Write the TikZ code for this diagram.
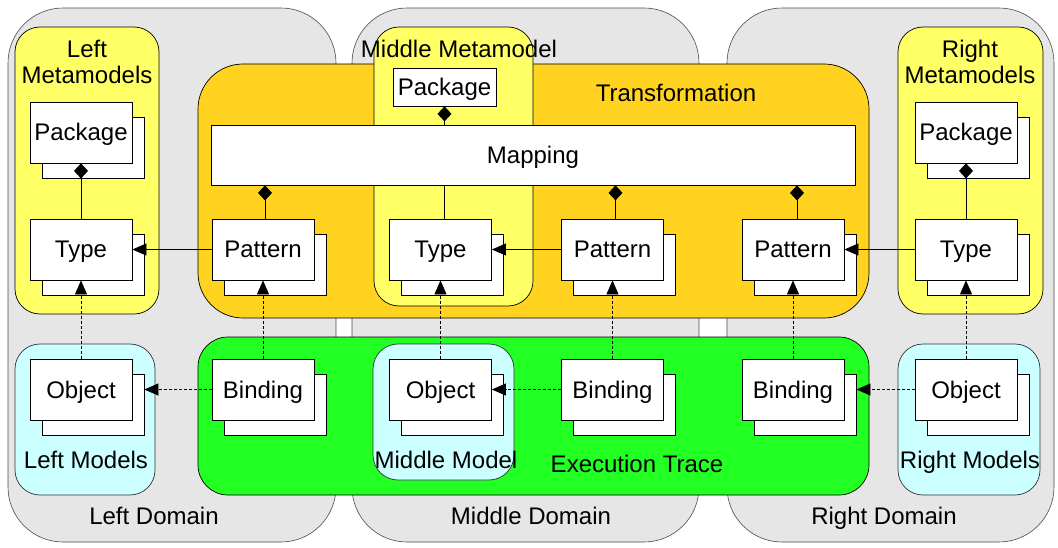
\documentclass[tikz,border=0pt]{standalone}
\usepackage{fontspec}
\setmainfont{Liberation Sans}
\usetikzlibrary{arrows.meta,shadows}

\definecolor{domgray}{HTML}{E6E6E6}
\definecolor{metayellow}{HTML}{FFFF66}
\definecolor{transorange}{HTML}{FFD320}
\definecolor{tracegreen}{HTML}{22FF22}
\definecolor{modelcyan}{HTML}{CCFFFF}

\begin{document}
\begin{tikzpicture}[x=1pt,y=-1pt,
    domainbox/.style={fill=domgray, draw=black!70, line width=0.6pt, rounded corners=55pt},
    metabox/.style={fill=metayellow, draw=black, line width=0.7pt, rounded corners=25pt},
    modelbox/.style={fill=modelcyan, draw=black!80, line width=0.7pt, rounded corners=25pt},
    transbox/.style={fill=transorange, draw=black, line width=0.7pt, rounded corners=45pt},
    tracebox/.style={fill=tracegreen, draw=black, line width=0.7pt, rounded corners=30pt},
    lbl/.style={inner sep=0pt, font=\fontsize{24}{26}\selectfont, text height=17pt, text depth=0pt},
    lbltwo/.style={inner sep=0pt, font=\fontsize{24}{26}\selectfont, align=center},
    singlebox/.style={draw, fill=white, line width=0.8pt, inner sep=0pt,
      minimum width=103pt, minimum height=38pt,
      font=\fontsize{24}{26}\selectfont, text height=17pt, text depth=0pt},
    stackbox/.style={singlebox, minimum width=102pt, minimum height=61pt,
      copy shadow={shadow xshift=12pt, shadow yshift=-15pt, fill=white, draw=black}},
    own/.style={{Diamond[length=15pt,width=14pt]}-, line width=0.8pt},
    ref/.style={-{Triangle[length=14pt,width=12pt]}, line width=0.8pt},
    dep/.style={ref, dash pattern=on 3pt off 2pt}]
  \useasboundingbox (0,0) rectangle (1058,548);

  % domains
  \draw[domainbox] (8,8) rectangle (336,542);
  \draw[domainbox] (352,8) rectangle (699,542);
  \draw[domainbox] (727,8) rectangle (1054,542);
  \node[lbl] (ldom) at (154,516) {Left Domain};
  \node[lbl] (mdom) at (531,516) {Middle Domain};
  \node[lbl] (rdom) at (884,516) {Right Domain};

  % left and right metamodels / models
  \draw[metabox] (15,27) rectangle (159,314);
  \draw[modelbox] (15,344) rectangle (155,495);
  \draw[metabox] (898,27) rectangle (1043,314);
  \draw[modelbox] (898,344) rectangle (1040,495);
  \node[lbltwo] (lmeta) at (87,62) {Left\\Metamodels};
  \node[lbltwo] (rmeta) at (970,62) {Right\\Metamodels};
  \node[lbl] (lmod) at (86,460) {Left Models};
  \node[lbl] (rmod) at (970,460) {Right Models};

  % transformation with middle metamodel
  \draw[transbox] (198,64) rectangle (869,318);
  \node[lbl] (trans) at (676,93) {Transformation};
  \draw[metabox] (374,27) rectangle (533,306);
  \node[lbl] (mmeta) at (459,49) {Middle Metamodel};

  % execution trace with middle model
  \draw[tracebox] (198,337) rectangle (869,495);
  \node[lbl] (trace) at (637,464) {Execution Trace};
  \draw[modelbox] (373,344) rectangle (514,480);
  \node[lbl] (mmod) at (446,460) {Middle Model};

  % classes
  \node[stackbox] (lpkg) at (81,132.5) {Package};
  \node[stackbox] (ltype) at (81,249.5) {Type};
  \node[stackbox] (lpat) at (263,249.5) {Pattern};
  \node[singlebox] (mpkg) at (444.5,87) {Package};
  \node[stackbox] (mtype) at (440.5,249.5) {Type};
  \node[stackbox] (mpat) at (612.5,249.5) {Pattern};
  \node[stackbox] (rpat) at (793,249.5) {Pattern};
  \node[stackbox] (rtype) at (966,249.5) {Type};
  \node[stackbox] (rpkg) at (966,132.5) {Package};

  % instances
  \node[stackbox] (lobj) at (81,389.5) {Object};
  \node[stackbox] (lbind) at (263,389.5) {Binding};
  \node[stackbox] (mobj) at (440.5,389.5) {Object};
  \node[stackbox] (mbind) at (612.5,389.5) {Binding};
  \node[stackbox] (rbind) at (793,389.5) {Binding};
  \node[stackbox] (robj) at (966,389.5) {Object};

  % middle package line runs behind the mapping
  \draw[own] (mpkg.south) -- (mpkg.south |- mtype.north);
  \node[singlebox, minimum width=644pt, minimum height=60pt] (mapping) at (533,155) {Mapping};

  % containment
  \draw[own] (lpkg.south) -- (ltype.north);
  \draw[own] (rpkg.south) -- (rtype.north);
  \draw[own] ([xshift=2pt]lpat.north |- mapping.south) -- ([xshift=2pt]lpat.north);
  \draw[own] ([xshift=3pt]mpat.north |- mapping.south) -- ([xshift=3pt]mpat.north);
  \draw[own] ([xshift=4pt]rpat.north |- mapping.south) -- ([xshift=4pt]rpat.north);

  % references
  \draw[ref] (lpat.west) -- (ltype.east);
  \draw[ref] (mpat.west) -- (mtype.east);
  \draw[ref] (rtype.west) -- (rpat.east);

  % instance of
  \draw[dep] (lobj.north) -- (ltype.south);
  \draw[dep] (lbind.north) -- (lpat.south);
  \draw[dep] (mobj.north) -- (mtype.south);
  \draw[dep] (mbind.north) -- (mpat.south);
  \draw[dep] (rbind.north) -- (rpat.south);
  \draw[dep] (robj.north) -- (rtype.south);

  % bindings
  \draw[dep] (lbind.west) -- ([xshift=12pt]lobj.east);
  \draw[dep] (mbind.west) -- (mobj.east);
  \draw[dep] (robj.west) -- ([xshift=12pt]rbind.east);
\end{tikzpicture}
\end{document}
